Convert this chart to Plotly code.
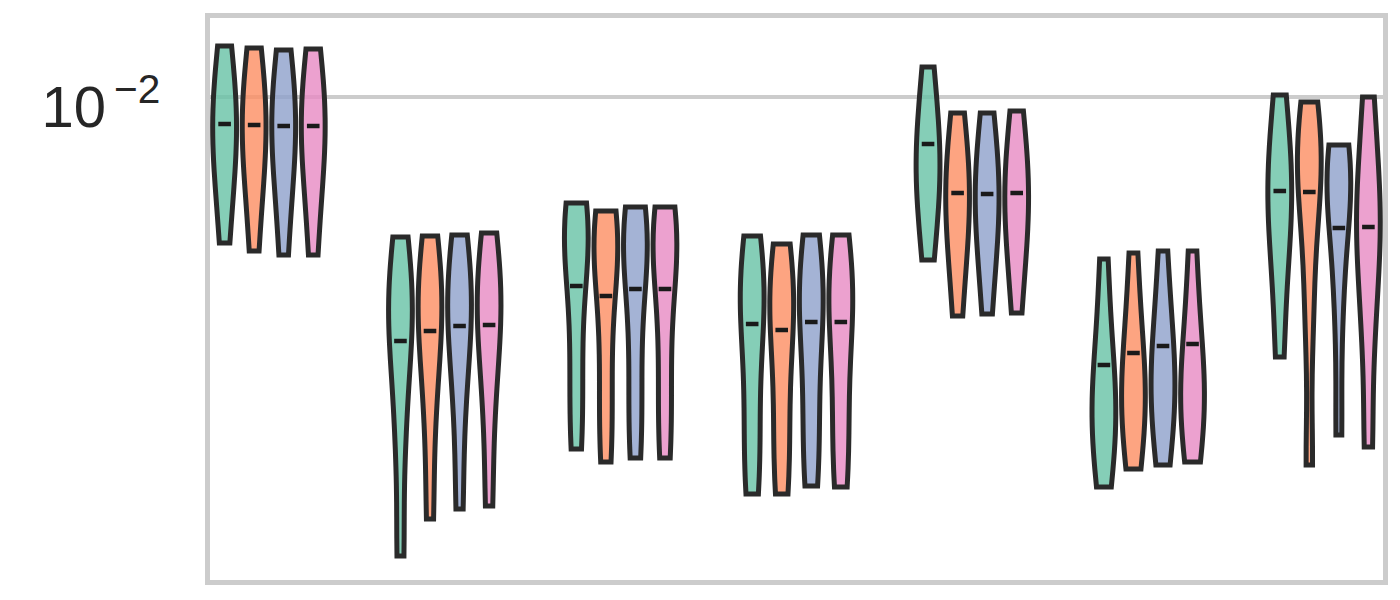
import numpy as np
import plotly.graph_objects as go

# Data: log10 of the sampled values, per group (7) and hue (4)
hues = ["A", "B", "C", "D"]
colors = ["rgba(102,194,165,0.8)", "rgba(252,141,98,0.8)",
          "rgba(141,160,203,0.8)", "rgba(231,138,195,0.8)"]

log_samples_A = [
    [-1.898, -1.982, -2.032, -2.066, -2.112, -2.178, -2.292],
    [-2.280, -2.370, -2.424, -2.460, -2.552, -2.690, -2.918],
    [-2.212, -2.258, -2.288, -2.306, -2.466, -2.604, -2.704],
    [-2.278, -2.362, -2.412, -2.446, -2.586, -2.706, -2.794],
    [-1.940, -2.038, -2.096, -2.136, -2.174, -2.230, -2.326],
    [-2.324, -2.470, -2.558, -2.616, -2.648, -2.698, -2.780],
    [-1.996, -2.100, -2.164, -2.206, -2.268, -2.362, -2.520],
]
log_samples_B = [
    [-1.902, -1.984, -2.034, -2.066, -2.114, -2.186, -2.308],
    [-2.278, -2.362, -2.412, -2.446, -2.526, -2.646, -2.844],
    [-2.228, -2.276, -2.306, -2.326, -2.488, -2.628, -2.730],
    [-2.294, -2.374, -2.424, -2.456, -2.592, -2.710, -2.794],
    [-2.032, -2.118, -2.172, -2.206, -2.252, -2.322, -2.438],
    [-2.312, -2.448, -2.532, -2.586, -2.618, -2.666, -2.744],
    [-2.010, -2.088, -2.134, -2.166, -2.280, -2.450, -2.736],
]
log_samples_C = [
    [-1.906, -1.986, -2.034, -2.066, -2.116, -2.190, -2.316],
    [-2.276, -2.358, -2.408, -2.440, -2.516, -2.632, -2.824],
    [-2.220, -2.272, -2.304, -2.326, -2.484, -2.622, -2.722],
    [-2.276, -2.362, -2.412, -2.446, -2.578, -2.694, -2.778],
    [-2.032, -2.118, -2.172, -2.206, -2.252, -2.320, -2.434],
    [-2.308, -2.436, -2.514, -2.566, -2.600, -2.650, -2.736],
    [-2.096, -2.140, -2.168, -2.186, -2.284, -2.430, -2.676],
]
log_samples_D = [
    [-1.904, -1.986, -2.034, -2.066, -2.116, -2.190, -2.316],
    [-2.272, -2.356, -2.406, -2.440, -2.516, -2.630, -2.818],
    [-2.220, -2.272, -2.304, -2.326, -2.484, -2.622, -2.722],
    [-2.276, -2.362, -2.412, -2.446, -2.580, -2.696, -2.780],
    [-2.028, -2.116, -2.170, -2.206, -2.252, -2.318, -2.432],
    [-2.308, -2.446, -2.530, -2.586, -2.614, -2.658, -2.730],
    [-2.000, -2.138, -2.220, -2.276, -2.360, -2.488, -2.700],
]
log_medians_A = [-2.054, -2.488, -2.378, -2.454, -2.094, -2.536, -2.188]
log_medians_B = [-2.056, -2.468, -2.398, -2.466, -2.192, -2.512, -2.190]
log_medians_C = [-2.058, -2.458, -2.384, -2.450, -2.194, -2.498, -2.262]
log_medians_D = [-2.058, -2.456, -2.384, -2.450, -2.192, -2.494, -2.260]

tick_vals = [-2]
tick_text = ["10<sup>\u2009\u22122</sup>"]

samples = [log_samples_A, log_samples_B, log_samples_C, log_samples_D]
medians = [log_medians_A, log_medians_B, log_medians_C, log_medians_D]
n_groups = len(log_samples_A)

hue_step = 0.168
vwidth = 0.135
kde_bw = 0.11
dark = "#2a2a2a"

fig = go.Figure()
for h in range(4):
    off = (h - 1.5) * hue_step
    for g in range(n_groups):
        fig.add_trace(go.Violin(
            y=samples[h][g], x0=g + off, name=hues[h],
            side="both", width=vwidth, spanmode="hard", bandwidth=kde_bw,
            points=False, box_visible=False, meanline_visible=False,
            fillcolor=colors[h], line=dict(color=dark, width=5),
            showlegend=False, hoverinfo="skip",
        ))
    fig.add_trace(go.Scatter(
        x=[g + off for g in range(n_groups)], y=medians[h],
        mode="markers",
        marker=dict(symbol="line-ew", size=9, line=dict(color="#1a1a1a", width=4.5)),
        showlegend=False, hoverinfo="skip",
    ))

fig.update_layout(
    width=1400, height=600,
    margin=dict(l=210, r=15, t=18, b=20),
    paper_bgcolor="white", plot_bgcolor="white",
    violinmode="overlay",
    font=dict(family="Liberation Sans, Arial, sans-serif", color="#262626"),
)
fig.update_xaxes(
    range=[-0.335, 6.335], showticklabels=False, showgrid=False, zeroline=False,
    showline=True, mirror=True, linecolor="#cccccc", linewidth=5, ticks="",
)
fig.update_yaxes(
    range=[-2.966, -1.842], tickvals=tick_vals, ticktext=tick_text,
    tickfont=dict(size=58, color="#262626"),
    showgrid=True, gridcolor="#cccccc", gridwidth=4, zeroline=False,
    showline=True, mirror=True, linecolor="#cccccc", linewidth=5, ticks="",
    ticklabelstandoff=33, ticklabelshift=10,
)
fig.write_html("out.html")
